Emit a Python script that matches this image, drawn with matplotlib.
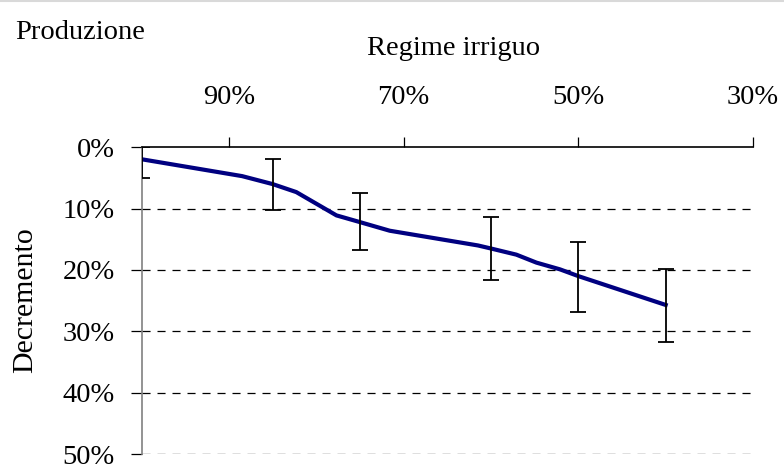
import matplotlib
matplotlib.use("Agg")
import matplotlib.pyplot as plt
import numpy as np

plt.rcParams['font.family'] = ['Liberation Serif', 'DejaVu Serif']
plt.rcParams['lines.scale_dashes'] = False

# Data
line_x = [100, 88.5, 85, 82.3, 77.7, 75, 71.6, 61.5, 60, 57.1, 54.8, 52.1, 50, 40]
line_y = [1.95, 4.7, 6.0, 7.3, 11.1, 12.2, 13.6, 16.0, 16.5, 17.5, 18.8, 19.9, 21.0, 25.7]
err_x = [100, 85, 75, 60, 50, 40]
err_y = [2.0, 6.0, 12.1, 16.5, 21.2, 25.8]
err_low = [5.0, 10.3, 16.8, 21.7, 26.9, 31.8]   # bottom end of bar (larger decrement)
err_high = [0.0, 1.85, 7.4, 11.3, 15.5, 19.8]   # top end of bar
x_ticks = [90, 70, 50, 30]
x_ticklabels = ['90%', '70%', '50%', '30%']
y_ticks = [0, 10, 20, 30, 40, 50]
y_ticklabels = ['0%', '10%', '20%', '30%', '40%', '50%']

W, H = 784, 469
fig = plt.figure(figsize=(W/100, H/100), dpi=100)
ax = fig.add_axes([141.7/W, 1-454/H, (753-141.7)/W, (454-147.3)/H])

ax.set_xlim(100, 30)
ax.set_ylim(50, 0)

# gridlines
for yv in y_ticks[1:]:
    ax.axhline(yv, color='black', lw=0.9, ls=(0, (5.8, 5.0)), zorder=1)

ax.plot(line_x, line_y, color='#000080', lw=3.0, solid_joinstyle='round', zorder=3)

yerr = np.array([np.array(err_y) - np.array(err_high), np.array(err_low) - np.array(err_y)])
ax.errorbar(err_x, err_y, yerr=yerr, fmt='none', ecolor='black', elinewidth=1.3,
            capsize=5.8, capthick=1.3, zorder=4)

for s in ['right', 'bottom']:
    ax.spines[s].set_visible(False)
ax.spines['top'].set_color('black')
ax.spines['top'].set_linewidth(1.2)
ax.spines['left'].set_color('#808080')
ax.spines['left'].set_linewidth(1.2)

ax.xaxis.tick_top()
ax.set_xticks(x_ticks)
ax.set_xticklabels(x_ticklabels)
ax.tick_params(axis='x', direction='out', length=7.2, width=0.9, pad=20, labelsize=20.5, color='black')
ax.set_yticks(y_ticks)
ax.set_yticklabels(y_ticklabels)
ax.tick_params(axis='y', direction='out', length=8, width=0.9, pad=11.5, labelsize=20.5, color='black')

fig.text(15/W, 1-39/H, 'Produzione', ha='left', va='baseline', fontsize=20.5)
fig.text(453.5/W, 1-55/H, 'Regime irriguo', ha='center', va='baseline', fontsize=20.5)
fig.text(25/W, 1-300/H, 'Decremento', ha='center', va='center', rotation=90, fontsize=21.5)

# light border line at the top
fig.add_artist(plt.Line2D([0, 1], [1-0.8/H, 1-0.8/H], color='#d9d9d9', lw=1.5, transform=fig.transFigure))

fig.savefig('out.png', dpi=100)
